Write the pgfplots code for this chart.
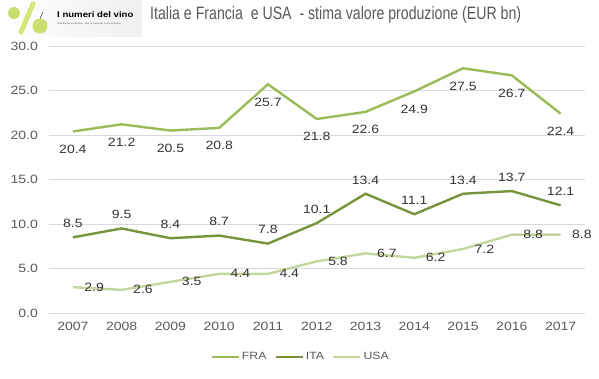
\documentclass[border=0pt]{standalone}
\usepackage{pgfplots}
\pgfplotsset{compat=1.18}
\usepackage{fontspec}
\setmainfont{Liberation Sans}[FakeStretch=1.17]
\definecolor{fra}{HTML}{9BBB59}
\definecolor{ita}{HTML}{77933C}
\definecolor{usa}{HTML}{C3D69B}
\definecolor{txt}{HTML}{595959}
\definecolor{gridc}{HTML}{D9D9D9}
\begin{document}
\begin{tikzpicture}[x=1pt,y=1pt]
\useasboundingbox (0,0) rectangle (599,378);
% logo (decoration)
\shade[left color=white, right color=gray!12] (0,341) rectangle (142,378);
\draw[line width=5pt, color={rgb,255:red,215;green,230;blue,120}, line cap=round] (33,374) -- (21,346);
\fill[color={rgb,255:red,200;green,222;blue,110}] (14,365) circle (6);
\fill[color={rgb,255:red,200;green,222;blue,110}] (40,352) circle (7.5);
\draw[black!70, line width=0.6pt] (40,359.5) -- (43,366);
\node[anchor=base west, inner sep=0, font=\bfseries\fontsize{8.2}{10}\selectfont] at (57,360) {I numeri del vino};
\node[anchor=base west, inner sep=0, font=\fontsize{2.4}{3}\selectfont, text=txt] at (57,353) {Statistiche produttive, dati di mercato e di consumo.};
% title
\node[anchor=base west, inner sep=0, text=txt] at (150,358) {\resizebox{371pt}{13pt}{Italia e Francia\ \ e USA\ \ - stima valore produzione (EUR bn)}};
\begin{axis}[
  at={(48.5pt,65pt)}, anchor=south west,
  scale only axis, width=536.5pt, height=267pt,
  xmin=2006.5, xmax=2017.5, ymin=0, ymax=30,
  xtick={2007,2008,...,2017}, ytick={0,5,...,30},
  axis line style={draw=none},
  ymajorgrids, grid style={gridc, line width=0.75pt},
  major tick length=0pt,
  tick label style={font=\fontsize{12}{14}\selectfont, text=txt},
  /pgf/number format/assume math mode=true,
  xticklabel style={yshift=-6pt, /pgf/number format/1000 sep={}},
  yticklabel style={xshift=-7pt, /pgf/number format/fixed, /pgf/number format/fixed zerofill, /pgf/number format/precision=1},
  every node near coord/.append style={font=\fontsize{12}{14}\selectfont, text=black!80,
     /pgf/number format/fixed, /pgf/number format/fixed zerofill, /pgf/number format/precision=1},
  legend style={at={(0.47,-0.165)}, anchor=center, draw=none, fill=none,
     legend columns=3, font=\fontsize{10.5}{12}\selectfont, text=txt,
     /tikz/every even column/.append style={column sep=6pt},
     legend cell align=left},
  legend image code/.code={\draw[#1, line width=2.4pt] (0pt,0pt) -- (27pt,0pt);},
]
\addplot[fra, line width=2.4pt, nodes near coords,
  every node near coord/.append style={anchor=north, yshift=-9pt}]
  coordinates {(2007,20.4) (2008,21.2) (2009,20.5) (2010,20.8) (2011,25.7) (2012,21.8) (2013,22.6) (2014,24.9) (2015,27.5) (2016,26.7) (2017,22.4)};
\addlegendentry{FRA}
\addplot[ita, line width=2.4pt, nodes near coords,
  every node near coord/.append style={anchor=south, yshift=5pt}]
  coordinates {(2007,8.5) (2008,9.5) (2009,8.4) (2010,8.7) (2011,7.8) (2012,10.1) (2013,13.4) (2014,11.1) (2015,13.4) (2016,13.7) (2017,12.1)};
\addlegendentry{ITA}
\addplot[usa, line width=2.4pt, nodes near coords,
  every node near coord/.append style={anchor=west, xshift=7pt}]
  coordinates {(2007,2.9) (2008,2.6) (2009,3.5) (2010,4.4) (2011,4.4) (2012,5.8) (2013,6.7) (2014,6.2) (2015,7.2) (2016,8.8) (2017,8.8)};
\addlegendentry{USA}
\end{axis}
\end{tikzpicture}
\end{document}
